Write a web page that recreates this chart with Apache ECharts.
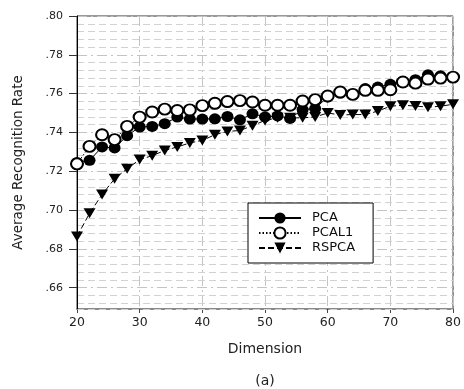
<!DOCTYPE html>
<html><head><meta charset="utf-8">
<script src="https://cdn.jsdelivr.net/npm/echarts@6/dist/echarts.min.js"></script>
<style>html,body{margin:0;padding:0;background:#fff}#c{width:464px;height:389px}</style>
</head><body><div id="c"></div>
<script>
const dims = [20,22,24,26,28,30,32,34,36,38,40,42,44,46,48,50,52,54,56,58,60,62,64,66,68,70,72,74,76,78,80];
const pca = [0.7245,0.7256,0.7325,0.7320,0.7383,0.7428,0.7431,0.7445,0.7479,0.7469,0.7469,0.7470,0.7482,0.7465,0.7496,0.7480,0.7485,0.7472,0.7518,0.7523,0.7583,0.7603,0.7598,0.7626,0.7634,0.7648,0.7660,0.7672,0.7697,0.7692,0.7685];
const pcal1 = [0.7238,0.7328,0.7388,0.7363,0.7431,0.7479,0.7505,0.7520,0.7513,0.7516,0.7538,0.7550,0.7559,0.7564,0.7557,0.7540,0.7540,0.7540,0.7562,0.7569,0.7588,0.7608,0.7596,0.7617,0.7617,0.7620,0.7660,0.7654,0.7675,0.7680,0.7685];
const rspca = [0.6864,0.6983,0.7080,0.7161,0.7213,0.7260,0.7280,0.7307,0.7325,0.7346,0.7359,0.7388,0.7405,0.7410,0.7435,0.7462,0.7475,0.7475,0.7475,0.7480,0.7500,0.7490,0.7492,0.7492,0.7510,0.7535,0.7540,0.7536,0.7530,0.7535,0.7545];
const yTicks = [0.66,0.68,0.70,0.72,0.74,0.76,0.78,0.80];
const xTicks = [20,30,40,50,60,70,80];
const seriesNames = ['PCA','PCAL1','RSPCA'];

const FONT = 'DejaVu Sans';
const chart = echarts.init(document.getElementById('c'), null, {renderer:'canvas'});
const yMin = 0.649, yMax = 0.80;
const minorColor = '#d2d2d2';
const option = {
  animation:false,
  backgroundColor:'#fff',
  grid:{left:77, right:10, top:16, bottom:80, show:true, borderColor:'#333', borderWidth:1, backgroundColor:'transparent'},
  legend:{
    orient:'vertical', left:248, top:203, data:seriesNames,
    itemWidth:42, itemHeight:14, itemGap:1,
    padding:[8,18,8,10],
    borderColor:'#000', borderWidth:1, backgroundColor:'#fff',
    textStyle:{fontFamily:FONT, fontSize:13, color:'#111', padding:[0,0,0,6], lineHeight:14}
  },
  graphic:[{type:'text', x:265, y:381, style:{text:'(a)', align:'center', verticalAlign:'middle', font:'14px "DejaVu Sans"', fill:'#222'}}],
  xAxis:{
    type:'value', min:xTicks[0], max:xTicks[xTicks.length-1], interval:10,
    name:'Dimension', nameLocation:'middle', nameGap:33,
    nameTextStyle:{fontFamily:FONT, fontSize:14, color:'#222'},
    axisLine:{show:true, onZero:false, lineStyle:{color:'#8a8a8a', width:2}},
    axisTick:{show:true, length:4, lineStyle:{color:'#444'}},
    axisLabel:{fontFamily:FONT, fontSize:12.5, color:'#222', margin:7},
    splitLine:{show:true, lineStyle:{color:'#c4c4c4', type:[10,4,2,4], width:1}}
  },
  yAxis:[
    {
      type:'value', min:yMin, max:yMax, minInterval:0.02, maxInterval:0.02, splitNumber:8,
      name:'Average Recognition Rate', nameLocation:'middle', nameGap:52,
      nameTextStyle:{fontFamily:FONT, fontSize:13.5, color:'#222'},
      axisLine:{show:true, lineStyle:{color:'#000', width:1}},
      axisTick:{show:true, length:8, customValues:yTicks, lineStyle:{color:'#333'}},
      axisLabel:{customValues:yTicks, margin:14, fontFamily:FONT, fontSize:11, color:'#222',
        formatter:function(v){ const k = v*50; return Math.abs(k-Math.round(k))<1e-6 ? '.'+Math.round(v*100) : ''; }},
      splitLine:{show:true, lineStyle:{color:'#c4c4c4', type:[10,4,2,4], width:1}},
      z:3
    },
    {
      type:'value', min:yMin, max:yMax, minInterval:0.004, maxInterval:0.004, splitNumber:38,
      axisLine:{show:false}, axisTick:{show:false}, axisLabel:{show:false},
      splitLine:{show:true, lineStyle:{color:[minorColor,minorColor,minorColor,'rgba(0,0,0,0)',minorColor], type:[7,4], width:1}},
      z:1
    }
  ],
  series:[
    {name:seriesNames[0], type:'line', yAxisIndex:0, data:dims.map((d,i)=>[d,pca[i]]),
     symbol:'circle', symbolSize:[12,11], clip:false,
     itemStyle:{color:'#000'}, lineStyle:{color:'#000', width:1, type:'solid'}},
    {name:seriesNames[1], type:'line', yAxisIndex:0, data:dims.map((d,i)=>[d,pcal1[i]]),
     symbol:'emptyCircle', symbolSize:[12,11], clip:false,
     itemStyle:{color:'#000', borderColor:'#000', borderWidth:1.2}, lineStyle:{color:'#000', width:1, type:[1.5,2]}},
    {name:seriesNames[2], type:'line', yAxisIndex:0, data:dims.map((d,i)=>[d,rspca[i]]),
     symbol:'path://M0,0L12,0L6,10Z', symbolSize:[12,10], clip:false,
     itemStyle:{color:'#000'}, lineStyle:{color:'#000', width:1, type:[6,3]}}
  ]
};
chart.setOption(option);
</script>
</body></html>
